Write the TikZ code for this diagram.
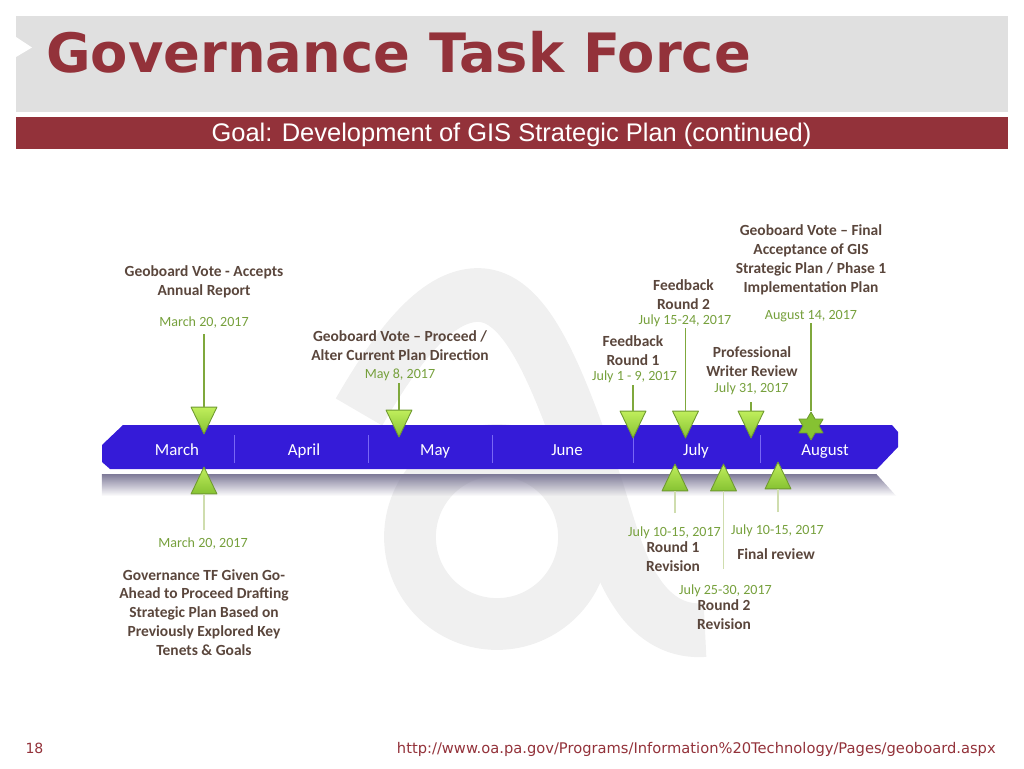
\documentclass[tikz,border=0pt]{standalone}
\usepackage{fontspec}
\setmainfont{Carlito}
\newfontfamily\titlefont{DejaVu Sans}
\newfontfamily\goalfont{Liberation Sans}
\usetikzlibrary{shapes.geometric,fadings}
\definecolor{wine}{HTML}{93323A}
\definecolor{headgray}{HTML}{E0E0E0}
\definecolor{logogray}{HTML}{F0F0F0}
\definecolor{barblue}{HTML}{4026F0}
\definecolor{bardark}{HTML}{351BD8}
\definecolor{shadowc}{HTML}{7E7A98}
\definecolor{brownc}{HTML}{5A463C}
\definecolor{datec}{HTML}{76A03C}
\definecolor{linedark}{HTML}{7FA83C}
\definecolor{linelight}{HTML}{CFDDAE}
\definecolor{limetop}{HTML}{C0EE5C}
\definecolor{limelow}{HTML}{86C232}
\definecolor{limeedge}{HTML}{6F9A30}
\newcommand{\px}{0.5669pt}
\tikzset{
 vote/.style={font=\fontsize{8.8pt}{10.77pt}\selectfont\bfseries,text=brownc,align=center,inner sep=0pt},
 datetxt/.style={font=\fontsize{8pt}{10pt}\selectfont,text=datec,align=center,inner sep=0pt},
 month/.style={font=\fontsize{9.6pt}{11pt}\selectfont,text=white,inner sep=0pt,anchor=base},
 markbase/.style={draw=limeedge,line width=0.5pt,isosceles triangle,isosceles triangle apex angle=51,isosceles triangle stretches,minimum width=26*\px,minimum height=27*\px,inner sep=0pt,top color=limetop,bottom color=limelow},
 markdown/.style={markbase,shape border rotate=-90,anchor=apex},
 markup/.style={markbase,shape border rotate=90,anchor=apex},
 upline/.style={linedark,line width=0.6pt},
 lowline/.style={linelight,line width=0.6pt}
}
\begin{document}
\begin{tikzpicture}[x=0.02cm,y=-0.02cm,line join=round]
 \useasboundingbox (0,0) rectangle (1024,768);
 % logo behind everything
 \draw[logogray,line width=54*\px] (359,412) .. controls (395,350) and (435,295) .. (478,295) .. controls (525,295) and (555,370) .. (590,470) .. controls (605,510) and (615,560) .. (635,590) .. controls (655,622) and (680,632) .. (705,630);
 \draw[logogray,line width=52*\px] (497,537) circle (87);
 % header
 \fill[headgray] (16,16) rectangle (1008,112);
 \fill[white] (16,37)--(32,47.5)--(16,57)--cycle;
 \fill[wine] (16,117) rectangle (1008,148.5);
 \node[font=\fontsize{30.9pt}{34pt}\selectfont\titlefont\bfseries,text=wine,anchor=base west,inner sep=0pt] (title) at (46,72) {Governance Task Force};
 \node[font=\fontsize{14.5pt}{16pt}\selectfont\goalfont,text=white,inner sep=0pt] (goal) at (511.5,134.5) {Goal: Development of GIS Strategic Plan (continued)};
 % timeline bar and its reflection
 \fill[shadowc,path fading=south] (102,474)--(877,474)--(897,496)--(102,496)--cycle;
 \shade[top color=bardark,middle color=barblue,bottom color=bardark] (123,425)--(892,425)--(898,432)--(898,447)--(877,469)--(110,469)--(102,462)--(102,445)--cycle;
 \foreach \x in {234,368,492,633,760} \draw[barblue!70!white,line width=0.5pt] (\x,435)--(\x,463);
 \foreach \name/\x/\txt in {mar/177/March,apr/304/April,may/435/May,jun/567/June,jul/696/July,aug/825/August}
  \node[month] (\name) at (\x,455.5) {\txt};
 % upper markers
 \node[markdown] (mA) at (204,435) {};
 \node[markdown] (mB) at (399,438) {};
 \node[markdown] (mC) at (633,439) {};
 \node[markdown] (mD) at (685.5,439) {};
 \node[markdown] (mE) at (751,439) {};
 \node[star,star points=6,star point ratio=1.73,minimum size=28*\px,inner sep=0pt,draw=limeedge,line width=0.5pt,fill=limelow] (mF) at (811,426) {};
 % lower markers
 \node[markup] (nA) at (204,466) {};
 \node[markup] (nB) at (675,463) {};
 \node[markup] (nC) at (723.5,463) {};
 \node[markup] (nD) at (778,461) {};
 % free ends of the connectors
 \coordinate (cA) at (204,334); \coordinate (cB) at (399,383); \coordinate (cC) at (633,385);
 \coordinate (cD) at (685.5,328); \coordinate (cE) at (751,402); \coordinate (cF) at (811,323);
 \coordinate (dA) at (204,530); \coordinate (dB) at (675,513); \coordinate (dC) at (723.5,569); \coordinate (dD) at (778,512);
 \foreach \a/\b in {cA/mA,cB/mB,cC/mC,cD/mD,cE/mE} \draw[upline] (\a)--(\b.lower side);
 \draw[upline] (cF)--(mF.north);
 \foreach \a/\b in {dA/nA,dB/nB,dC/nC,dD/nD} \draw[lowline] (\a)--(\b.lower side);
 % upper texts
 \node[vote] (vA) at (204,281.5) {Geoboard Vote - Accepts\\Annual Report};
 \node[datetxt] (tA) at (204,323) {March 20, 2017};
 \node[vote] (vB) at (400,346) {Geoboard Vote – Proceed /\\Alter Current Plan Direction};
 \node[datetxt] (tB) at (400,375) {May 8, 2017};
 \node[vote] (vC) at (633,351) {Feedback\\Round 1};
 \node[datetxt] (tC) at (634.5,377) {July 1 - 9, 2017};
 \node[vote] (vD) at (683.5,294.5) {Feedback\\Round 2};
 \node[datetxt] (tD) at (685,321) {July 15-24, 2017};
 \node[vote] (vE) at (752,361.5) {Professional\\Writer Review};
 \node[datetxt] (tE) at (751.5,389) {July 31, 2017};
 \node[vote] (vF) at (811,260) {Geoboard Vote – Final\\Acceptance of GIS\\Strategic Plan / Phase 1\\Implementation Plan};
 \node[datetxt] (tF) at (811,316.5) {August 14, 2017};
 % lower texts
 \node[datetxt] (uA) at (203,543.5) {March 20, 2017};
 \node[vote] (wA) at (204,612.5) {Governance TF Given Go-\\Ahead to Proceed Drafting\\Strategic Plan Based on\\Previously Explored Key\\Tenets \& Goals};
 \node[datetxt] (uB) at (674.5,532.5) {July 10-15, 2017};
 \node[vote] (wB) at (673,557) {Round 1\\Revision};
 \node[datetxt] (uC) at (725.5,591) {July 25-30, 2017};
 \node[vote] (wC) at (724,614.5) {Round 2\\Revision};
 \node[datetxt] (uD) at (777.5,530.5) {July 10-15, 2017};
 \node[vote] (wD) at (776,554.5) {Final review};
 % footer
 \node[font=\fontsize{8pt}{10pt}\selectfont\titlefont,text=wine,inner sep=0pt] (page) at (34.5,748) {18};
 \node[font=\fontsize{8.36pt}{10pt}\selectfont\titlefont,text=wine,anchor=east,inner sep=0pt] (url) at (996,749) {http://www.oa.pa.gov/Programs/Information\%20Technology/Pages/geoboard.aspx};
\end{tikzpicture}
\end{document}
